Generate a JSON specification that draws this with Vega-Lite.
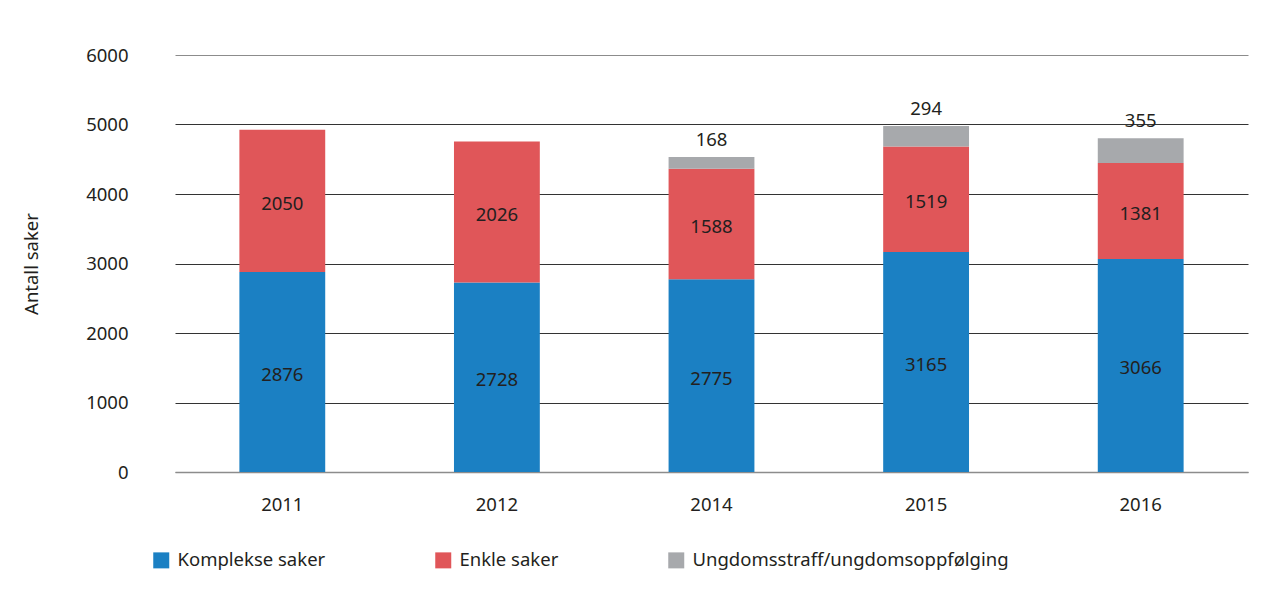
{
  "$schema": "https://vega.github.io/schema/vega-lite/v6.json",
  "width": 1073,
  "height": 417,
  "autosize": {"type": "none"},
  "padding": {"left": 175, "top": 55, "right": 34, "bottom": 136},
  "background": "white",
  "config": {
    "font": "Noto Sans",
    "view": {"stroke": null},
    "text": {"font": "Noto Sans"}
  },
  "data": {
    "values": [
      {"aar": "2011", "serie": "Komplekse saker", "antall": 2876},
      {"aar": "2011", "serie": "Enkle saker", "antall": 2050},
      {"aar": "2012", "serie": "Komplekse saker", "antall": 2728},
      {"aar": "2012", "serie": "Enkle saker", "antall": 2026},
      {"aar": "2014", "serie": "Komplekse saker", "antall": 2775},
      {"aar": "2014", "serie": "Enkle saker", "antall": 1588},
      {"aar": "2014", "serie": "Ungdomsstraff/ungdomsoppfølging", "antall": 168},
      {"aar": "2015", "serie": "Komplekse saker", "antall": 3165},
      {"aar": "2015", "serie": "Enkle saker", "antall": 1519},
      {"aar": "2015", "serie": "Ungdomsstraff/ungdomsoppfølging", "antall": 294},
      {"aar": "2016", "serie": "Komplekse saker", "antall": 3066},
      {"aar": "2016", "serie": "Enkle saker", "antall": 1381},
      {"aar": "2016", "serie": "Ungdomsstraff/ungdomsoppfølging", "antall": 355}
    ]
  },
  "transform": [
    {"calculate": "indexof(['Komplekse saker','Enkle saker','Ungdomsstraff/ungdomsoppfølging'], datum.serie)", "as": "o"},
    {"stack": "antall", "groupby": ["aar"], "sort": [{"field": "o", "order": "ascending"}], "as": ["y0", "y1"]},
    {"calculate": "(datum.y0 + datum.y1) / 2", "as": "ym"}
  ],
  "encoding": {
    "x": {
      "field": "aar",
      "type": "nominal",
      "scale": {"paddingInner": 0.6, "paddingOuter": 0.3},
      "axis": {
        "title": null,
        "labelAngle": 0,
        "labelFontSize": 18.5,
        "labelColor": "#231F20",
        "labelPadding": 23,
        "ticks": false,
        "domain": true,
        "domainColor": "#8c8c8c",
        "domainWidth": 1.5
      }
    }
  },
  "layer": [
    {
      "mark": {"type": "bar"},
      "encoding": {
        "y": {
          "field": "y0",
          "type": "quantitative",
          "scale": {"domain": [0, 6000]},
          "axis": {
            "title": "Antall saker",
            "titleFontSize": 18.5,
            "titleFontWeight": "normal",
            "titleColor": "#231F20",
            "titlePadding": 44,
            "labelFontSize": 18.5,
            "labelColor": "#231F20",
            "labelPadding": 47,
            "values": [0, 1000, 2000, 3000, 4000, 5000, 6000],
            "format": "d",
            "labelOverlap": false,
            "ticks": false,
            "domain": false,
            "grid": true,
            "gridColor": {"condition": {"test": "datum.value === 6000 || datum.value === 0", "value": "#8c8c8c"}, "value": "#333333"},
            "gridWidth": 1
          }
        },
        "y2": {"field": "y1"},
        "color": {
          "field": "serie",
          "type": "nominal",
          "scale": {
            "domain": ["Komplekse saker", "Enkle saker", "Ungdomsstraff/ungdomsoppfølging"],
            "range": ["#1B80C3", "#E05659", "#A7A9AC"]
          },
          "legend": {
            "title": null,
            "orient": "none",
            "legendX": -23,
            "legendY": 496,
            "direction": "horizontal",
            "symbolType": "square",
            "symbolSize": 256,
            "symbolStrokeWidth": 0,
            "labelFontSize": 18.5,
            "labelColor": "#231F20",
            "labelLimit": 500,
            "labelOffset": 7,
            "columnPadding": 108
          }
        }
      }
    },
    {
      "transform": [{"filter": "datum.o < 2"}],
      "mark": {"type": "text", "fontSize": 18.5, "color": "#231F20", "baseline": "middle", "dy": 3},
      "encoding": {
        "y": {"field": "ym", "type": "quantitative"},
        "text": {"field": "antall", "type": "quantitative"}
      }
    },
    {
      "transform": [{"filter": "datum.o == 2"}],
      "mark": {"type": "text", "fontSize": 18.5, "color": "#231F20", "baseline": "bottom", "dy": -7},
      "encoding": {
        "y": {"field": "y1", "type": "quantitative"},
        "text": {"field": "antall", "type": "quantitative"}
      }
    }
  ]
}
